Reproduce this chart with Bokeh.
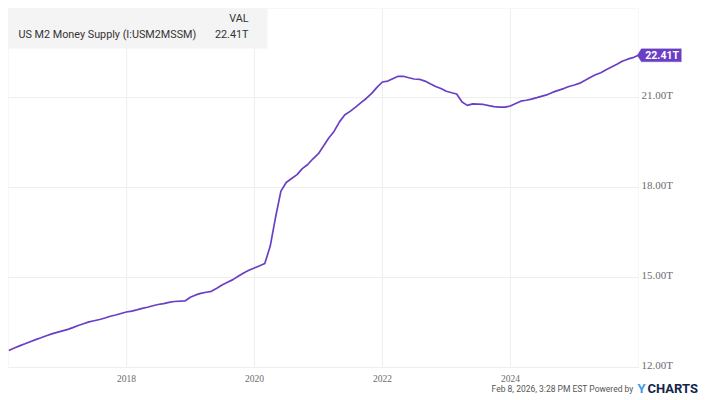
import pandas as pd
from datetime import datetime
from bokeh.plotting import figure
from bokeh.models import (Range1d, Label, LabelSet, BoxAnnotation, PolyAnnotation,
                          ColumnDataSource)
from bokeh.embed import file_html
from bokeh.resources import INLINE

# ---------------- data ----------------
series_name = "US M2 Money Supply (I:USM2MSSM)"
value_header = "VAL"
months = pd.date_range("2016-02-29", periods=119, freq="ME")
m2_trillions = [
    # 2016 Feb-Dec
    12.57, 12.65, 12.72, 12.79, 12.86, 12.93, 12.99, 13.06, 13.12, 13.17, 13.22,
    # 2017
    13.27, 13.33, 13.40, 13.46, 13.52, 13.56, 13.60, 13.65, 13.71, 13.75, 13.80, 13.85,
    # 2018
    13.88, 13.92, 13.97, 14.01, 14.06, 14.10, 14.13, 14.17, 14.20, 14.21, 14.22, 14.34,
    # 2019
    14.42, 14.47, 14.51, 14.54, 14.64, 14.75, 14.84, 14.93, 15.04, 15.15, 15.24, 15.32,
    # 2020
    15.39, 15.47, 16.05, 17.00, 17.88, 18.17, 18.30, 18.43, 18.63, 18.77, 18.96, 19.13,
    # 2021
    19.40, 19.65, 19.88, 20.19, 20.43, 20.54, 20.68, 20.83, 20.97, 21.14, 21.34, 21.52,
    # 2022
    21.55, 21.63, 21.71, 21.71, 21.66, 21.62, 21.61, 21.55, 21.46, 21.37, 21.30, 21.21,
    # 2023
    21.16, 21.12, 20.85, 20.74, 20.79, 20.78, 20.77, 20.73, 20.70, 20.68, 20.68, 20.72,
    # 2024
    20.80, 20.88, 20.91, 20.95, 21.00, 21.05, 21.10, 21.18, 21.24, 21.30, 21.37, 21.42,
    # 2025
    21.48, 21.57, 21.67, 21.76, 21.83, 21.93, 22.02, 22.11, 22.21, 22.28, 22.33, 22.41,
]
x_tick_years = [2018, 2020, 2022, 2024]
x_tick_labels = ["2018", "2020", "2022", "2024"]
y_ticks = [12, 15, 18, 21]
y_tick_labels = ["12.00T", "15.00T", "18.00T", "21.00T"]
last_value_label = "22.41T"
credit_text = "Feb 8, 2026, 3:28 PM EST Powered by"
brand_y = "Y"
brand_rest = "CHARTS"

# ---------------- layout ----------------
LINE_COLOR = "#6a3fc4"
GRID_COLOR = "#eeeeee"
TICK_COLOR = "#6b6b6b"
FONT = "Roboto"
CANVAS_W, CANVAS_H = 704, 400
PLOT_L, PLOT_T, PLOT_W, PLOT_H = 8, 8, 630, 359   # plotting area inside the canvas

x_start = datetime(2016, 2, 27)
x_end = datetime(2026, 1, 1)
y_start, y_end = 12.0, 23.97

x0_ms = pd.Timestamp(x_start).value / 1e6
x1_ms = pd.Timestamp(x_end).value / 1e6
dx = (x1_ms - x0_ms) / PLOT_W
dy = (y_end - y_start) / PLOT_H

x_rng = Range1d(x0_ms - PLOT_L * dx, x1_ms + (CANVAS_W - PLOT_L - PLOT_W) * dx)
y_rng = Range1d(y_start - (CANVAS_H - PLOT_T - PLOT_H) * dy, y_end + PLOT_T * dy)

p = figure(width=CANVAS_W, height=CANVAS_H, x_range=x_rng, y_range=y_rng,
           x_axis_location=None, y_axis_location=None,
           output_backend="svg", toolbar_location=None,
           min_border=0, min_border_left=0, min_border_right=0,
           min_border_top=0, min_border_bottom=0)
p.background_fill_color = "white"
p.border_fill_color = "white"
p.outline_line_color = None
p.xgrid.visible = False
p.ygrid.visible = False

# plotting-area frame
p.add_layout(BoxAnnotation(left=x0_ms, right=x1_ms, bottom=y_start, top=y_end,
                           fill_alpha=0, line_color="#e3e3e3", line_width=1,
                           level="underlay"))

# grid lines
year_ms = [pd.Timestamp(f"{y}-01-01").value / 1e6 for y in x_tick_years]
p.segment(x0=year_ms, x1=year_ms, y0=[y_start] * len(year_ms), y1=[y_end] * len(year_ms),
          line_color=GRID_COLOR, line_width=1)
p.segment(x0=[x0_ms] * len(y_ticks), x1=[x1_ms] * len(y_ticks), y0=y_ticks, y1=y_ticks,
          line_color=GRID_COLOR, line_width=1)

# the series
p.line(x=months, y=m2_trillions, line_color=LINE_COLOR, line_width=1.7)

# tick labels
xsrc = ColumnDataSource(dict(x=year_ms, y=[y_start] * len(year_ms), t=x_tick_labels))
p.add_layout(LabelSet(x="x", y="y", text="t", source=xsrc, x_offset=0, y_offset=-11,
                      text_font=FONT, text_font_size="9.5px", text_color=TICK_COLOR,
                      text_align="center", text_baseline="middle"))
ysrc = ColumnDataSource(dict(x=[x1_ms] * len(y_ticks), y=y_ticks, t=y_tick_labels))
p.add_layout(LabelSet(x="x", y="y", text="t", source=ysrc, x_offset=3, y_offset=3,
                      text_font=FONT, text_font_size="11px", text_color=TICK_COLOR,
                      text_align="left", text_baseline="middle"))

# legend box
p.add_layout(BoxAnnotation(left=x0_ms, right=x0_ms + 259 * dx, top=y_end,
                           bottom=y_end - 40 * dy, fill_color="#f2f2f2", fill_alpha=0.85,
                           line_color=None))
txt = dict(text_font=FONT, text_font_size="10.8px", text_color="#333333",
           text_baseline="middle")
p.add_layout(Label(x=x0_ms, y=y_end, x_offset=240, y_offset=-10, text=value_header,
                   text_align="right", **txt))
p.add_layout(Label(x=x0_ms, y=y_end, x_offset=10, y_offset=-26, text=series_name,
                   text_align="left", **txt))
p.add_layout(Label(x=x0_ms, y=y_end, x_offset=240, y_offset=-26,
                   text=last_value_label, text_align="right", **txt))

# last-value tag
lx = pd.Timestamp(months[-1]).value / 1e6
ly = m2_trillions[-1]
tip = lx - 1 * dx
p.add_layout(PolyAnnotation(
    xs=[tip, tip + 4 * dx, tip + 44 * dx, tip + 44 * dx, tip + 4 * dx],
    ys=[ly, ly + 6.5 * dy, ly + 6.5 * dy, ly - 6.5 * dy, ly - 6.5 * dy],
    fill_color=LINE_COLOR, fill_alpha=1.0, line_color=LINE_COLOR, line_width=1))
p.add_layout(Label(x=tip, y=ly, x_offset=8, y_offset=0, text=last_value_label,
                   text_font=FONT, text_font_size="10.5px", text_font_style="bold",
                   text_color="white", text_align="left", text_baseline="middle"))

# credits
p.add_layout(Label(x=x1_ms, y=y_start, x_offset=-5, y_offset=-21, text=credit_text,
                   text_font=FONT, text_font_size="8.5px", text_color="#555555",
                   text_align="right", text_baseline="middle"))
p.add_layout(Label(x=x1_ms, y=y_start, x_offset=-1, y_offset=-21, text=brand_y,
                   text_font=FONT, text_font_size="13px", text_font_style="bold",
                   text_color="#3a9be8", text_align="left", text_baseline="middle"))
p.add_layout(Label(x=x1_ms, y=y_start, x_offset=9, y_offset=-21, text=brand_rest,
                   text_font=FONT, text_font_size="13px", text_font_style="bold",
                   text_color="#13254a", text_align="left", text_baseline="middle"))

open("out.html", "w").write(file_html(p, INLINE))
